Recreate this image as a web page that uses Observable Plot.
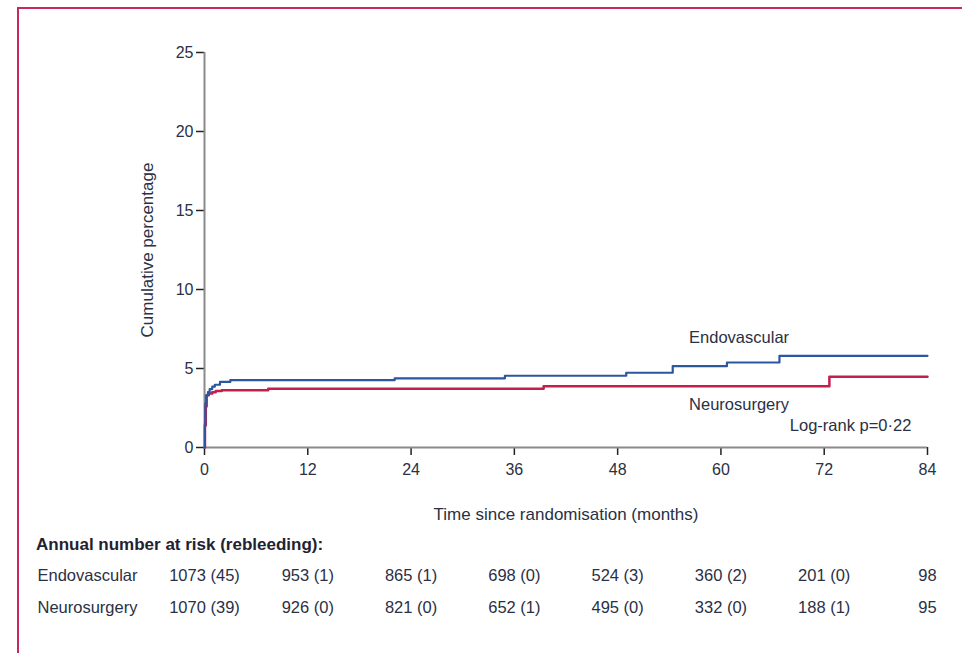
<!DOCTYPE html>
<html>
<head>
<meta charset="utf-8">
<script src="https://cdn.jsdelivr.net/npm/d3@7"></script>
<script src="https://cdn.jsdelivr.net/npm/@observablehq/plot@0.6"></script>
<style>
  html, body { margin: 0; padding: 0; background: #fff; }
  #wrap { position: relative; width: 962px; height: 653px; overflow: hidden; font-family: "Liberation Sans", Arial, sans-serif; }
  #border { position: absolute; left: 17px; top: 7px; right: -10px; bottom: -10px; border-top: 2px solid #c8285a; border-left: 2px solid #c8285a; }
  #main { position: absolute; left: 0; top: 0; }
  #hdr { position: absolute; left: 36px; top: 535px; font-weight: bold; font-size: 17px; color: #1f2230; }
  #tbl { position: absolute; left: 0; top: 530px; }
</style>
</head>
<body>
<div id="wrap">
  <div id="border"></div>
  <div id="main"></div>
  <div id="hdr">Annual number at risk (rebleeding):</div>
  <div id="tbl"></div>
</div>
<script>
// ---- data ----
const xTicks = [0, 12, 24, 36, 48, 60, 72, 84];
const yTicks = [0, 5, 10, 15, 20, 25];

const endoT = [0, 0.05, 0.1, 0.2, 0.4, 0.6, 0.9, 1.2, 1.8, 3.0, 22.1, 34.9, 49.0, 54.4, 60.7, 66.8, 84];
const endoV = [0, 1.5, 2.8, 3.3, 3.5, 3.7, 3.85, 3.97, 4.15, 4.27, 4.38, 4.54, 4.73, 5.15, 5.38, 5.8, 5.8];

const neuroT = [0, 0.05, 0.15, 0.25, 0.5, 0.9, 1.3, 2.0, 7.4, 39.4, 72.6, 84];
const neuroV = [0, 1.4, 2.6, 3.3, 3.42, 3.5, 3.57, 3.62, 3.72, 3.87, 4.47, 4.47];

const groups = ["Endovascular", "Neurosurgery"];
const riskMonths = [0, 12, 24, 36, 48, 60, 72, 84];
const endoRisk = ["1073 (45)", "953 (1)", "865 (1)", "698 (0)", "524 (3)", "360 (2)", "201 (0)", "98"];
const neuroRisk = ["1070 (39)", "926 (0)", "821 (0)", "652 (1)", "495 (0)", "332 (0)", "188 (1)", "95"];

const annotT = [56.3, 56.3, 68.0];
const annotV = [6.94, 2.7, 1.37];
const annotText = ["Endovascular", "Neurosurgery", "Log-rank p=0·22"];

const blue = "#2c56a0";
const red = "#c41e4e";
const ink = "#2a3045";

// ---- build tables ----
const endo = endoT.map((t, i) => ({t, v: endoV[i]}));
const neuro = neuroT.map((t, i) => ({t, v: neuroV[i]}));
const annots = annotT.map((t, i) => ({t, v: annotV[i], text: annotText[i]}));
const risk = [
  ...riskMonths.map((t, i) => ({t, g: groups[0], text: endoRisk[i]})),
  ...riskMonths.map((t, i) => ({t, g: groups[1], text: neuroRisk[i]}))
];

const W = 962, ML = 204, MR = 35;

const main = Plot.plot({
  width: W, height: 530,
  marginTop: 52, marginBottom: 83, marginLeft: ML, marginRight: MR,
  style: {fontFamily: "Liberation Sans, Arial, sans-serif", fontSize: "16px", color: ink, background: "transparent", overflow: "visible"},
  x: {domain: [0, 84]},
  y: {domain: [0, 25]},
  marks: [
    Plot.axisX({ticks: xTicks, tickSize: 8, tickPadding: 8, stroke: "#222", strokeWidth: 1.5, fontSize: 16,
      label: null}),
    Plot.axisX({ticks: [], label: "Time since randomisation (months)", labelAnchor: "center", labelArrow: "none", labelOffset: 72, fontSize: 17}),
    Plot.axisY({ticks: yTicks, tickSize: 8, tickPadding: 3, stroke: "#222", strokeWidth: 1.5, fontSize: 16,
      label: null}),
    Plot.axisY({ticks: [], label: "Cumulative percentage", labelAnchor: "center", labelArrow: "none", labelOffset: 64, fontSize: 17}),
    Plot.ruleX([0], {stroke: "#8a8a8a", strokeWidth: 2}),
    Plot.ruleY([0], {stroke: "#8a8a8a", strokeWidth: 2}),
    Plot.line(neuro, {x: "t", y: "v", curve: "step-after", stroke: red, strokeWidth: 2.5}),
    Plot.line(endo, {x: "t", y: "v", curve: "step-after", stroke: blue, strokeWidth: 2.2}),
    Plot.text(annots, {x: "t", y: "v", text: "text", textAnchor: "start", fontSize: 16.5, fill: ink})
  ]
});
document.getElementById("main").appendChild(main);

const tbl = Plot.plot({
  width: W, height: 110,
  marginLeft: ML, marginRight: MR, marginTop: 0, marginBottom: 0,
  style: {fontFamily: "Liberation Sans, Arial, sans-serif", fontSize: "16.5px", color: ink, background: "transparent", overflow: "visible"},
  x: {domain: [0, 84], axis: null},
  y: {type: "point", domain: groups, range: [45, 77], padding: 0},
  marks: [
    Plot.axisY({tickSize: 0, tickPadding: 3, textAnchor: "start", dx: -164, fontSize: 16.5, label: null}),
    Plot.text(risk, {x: "t", y: "g", text: "text", fontSize: 16.5, fill: ink})
  ]
});
document.getElementById("tbl").appendChild(tbl);
</script>
</body>
</html>
